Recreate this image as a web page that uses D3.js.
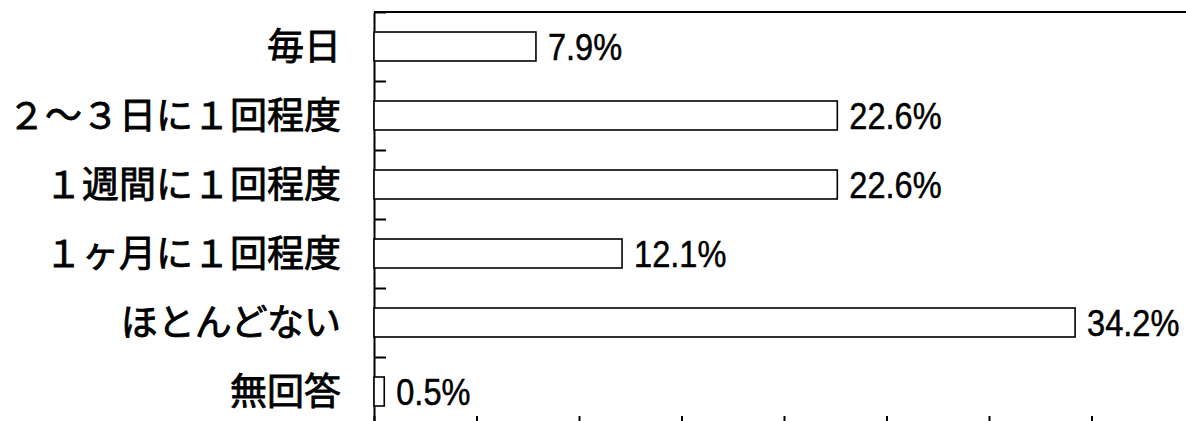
<!DOCTYPE html>
<html>
<head>
<meta charset="utf-8">
<script src="https://cdn.jsdelivr.net/npm/d3@7"></script>
<style>
  html, body { margin: 0; padding: 0; background: #fff; }
</style>
</head>
<body>
<div id="canvas"></div>
<script>
let categories = ["毎日", "２～３日に１回程度", "１週間に１回程度", "１ヶ月に１回程度", "ほとんどない", "無回答"];
let values = [7.9, 22.6, 22.6, 12.1, 34.2, 0.5];
let xTicks = [0, 5, 10, 15, 20, 25, 30, 35, 40];

let width = 1186, height = 421;

let svg = d3
  .select("#canvas")
  .append("svg")
  .attr("width", width)
  .attr("height", height)
  .style("display", "block")
  .style("background", "#fff");

// plot area runs a little past the picture on the right and bottom
let plot = { left: 374, right: 1194, top: 12, bottom: 426 };

let x = d3.scaleLinear().domain([0, 40]).range([plot.left, plot.right]);
let y = d3
  .scaleBand()
  .domain(categories)
  .range([plot.top, plot.bottom])
  .paddingInner(0.58)
  .paddingOuter(0.29);

// band boundaries for the small left ticks
let yEdge = d3.scaleLinear().domain([0, categories.length]).range([plot.top, plot.bottom]);

// top frame line
svg.append("line")
  .attr("x1", plot.left).attr("x2", plot.right)
  .attr("y1", plot.top).attr("y2", plot.top)
  .attr("stroke", "#000").attr("stroke-width", 2);

// left axis, ticks pointing inward
let yAxis = svg.append("g")
  .attr("transform", `translate(${plot.left},0)`)
  .call(d3.axisRight(yEdge).tickValues(d3.range(categories.length + 1)).tickSize(12).tickSizeOuter(0).tickFormat(""));
yAxis.select(".domain").attr("stroke", "#000").attr("stroke-width", 2);
yAxis.selectAll(".tick line").attr("stroke", "#000").attr("stroke-width", 2);

// bottom axis (line itself sits below the picture), ticks pointing up
let xAxis = svg.append("g")
  .attr("transform", `translate(0,${plot.bottom})`)
  .call(d3.axisTop(x).tickValues(xTicks).tickSize(10).tickSizeOuter(0).tickFormat(""));
xAxis.select(".domain").attr("stroke", "#000").attr("stroke-width", 2);
xAxis.selectAll(".tick line").attr("stroke", "#000").attr("stroke-width", 2);

// bars
svg.append("g")
  .selectAll("rect")
  .data(values)
  .join("rect")
  .attr("x", x(0))
  .attr("y", (d, i) => y(categories[i]))
  .attr("width", (d) => x(d) - x(0))
  .attr("height", y.bandwidth())
  .attr("fill", "#fff")
  .attr("stroke", "#000")
  .attr("stroke-width", 1.6);

// value labels (narrowed a bit, the original face is condensed)
svg.append("g")
  .selectAll("text")
  .data(values)
  .join("text")
  .attr("transform", (d, i) => `translate(${x(d) + 12},${y(categories[i]) + y.bandwidth() / 2}) scale(0.88,1)`)
  .attr("dy", "0.36em")
  .attr("font-family", "'Liberation Sans', Arial, sans-serif")
  .attr("font-size", 37)
  .attr("fill", "#000")
  .attr("stroke", "#000")
  .attr("stroke-width", 0.5)
  .text((d) => d.toFixed(1) + "%");

// category labels
svg.append("g")
  .selectAll("text")
  .data(categories)
  .join("text")
  .attr("x", 341)
  .attr("y", (d) => y(d) + y.bandwidth() / 2)
  .attr("dy", "0.36em")
  .attr("text-anchor", "end")
  .attr("font-family", "'Noto Sans CJK JP', sans-serif")
  .attr("font-size", 37)
  .attr("fill", "#000")
  .attr("stroke", "#000")
  .attr("stroke-width", 0.8)
  .text((d) => d);
</script>
</body>
</html>
